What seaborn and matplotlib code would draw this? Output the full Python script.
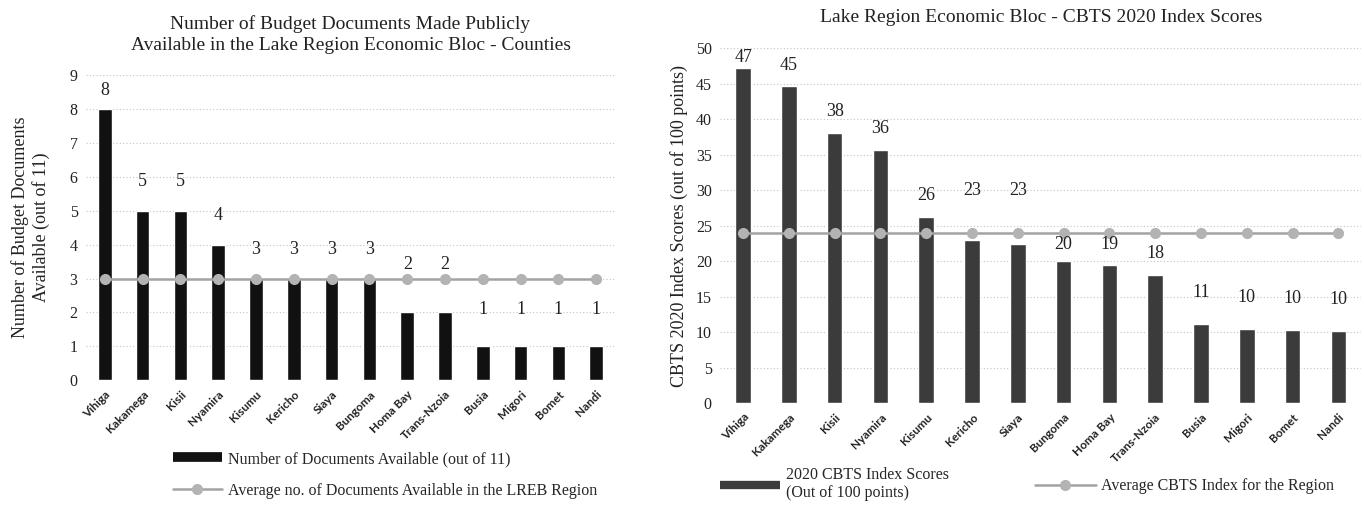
import matplotlib
matplotlib.use("Agg")
import matplotlib.pyplot as plt
import seaborn as sns
import numpy as np
from matplotlib.lines import Line2D

# --------------------------------------------------------
# Data
# --------------------------------------------------------

counties = ["Vihiga", "Kakamega", "Kisii", "Nyamira", "Kisumu", "Kericho", "Siaya",
            "Bungoma", "Homa Bay", "Trans-Nzoia", "Busia", "Migori", "Bomet", "Nandi"]

documents = [8, 5, 5, 4, 3, 3, 3, 3, 2, 2, 1, 1, 1, 1]
documents_avg = 3

cbts_scores = [47.2, 44.6, 38.1, 35.7, 26.2, 23.0, 22.4, 20.0, 19.4, 18.1, 11.1, 10.4, 10.3, 10.1]
cbts_labels = ["47", "45", "38", "36", "26", "23", "23", "20", "19", "18", "11", "10", "10", "10"]
cbts_avg = 24

# --------------------------------------------------------
# Global Visualization Settings
# --------------------------------------------------------

sns.set_theme(style="white")
plt.rcParams["font.family"] = ["Liberation Serif", "DejaVu Serif"]

SERIF = "Liberation Serif"
TICK_FONT = "Lato"
BAR_LEFT = "#111111"
BAR_RIGHT = "#3b3b3b"
LINE_COLOR = "#a3a3a3"
MARKER_COLOR = "#b3b3b3"
TEXT_COLOR = "#222222"

fig = plt.figure(figsize=(13.64, 5.07), dpi=100)

ax1 = fig.add_axes([0.063, 0.25, 0.388, 0.602])
ax2 = fig.add_axes([0.528, 0.205, 0.470, 0.700])


def style_axis(ax, ymax, step):
    ax.set_ylim(0, ymax)
    ax.set_yticks(np.arange(0, ymax + 0.1, step))
    ax.set_xlim(-0.5, len(counties) - 0.5)
    ax.yaxis.grid(True, linestyle=(0, (1, 2)), color="#c4c4c4", linewidth=0.8)
    ax.set_axisbelow(True)
    for s in ax.spines.values():
        s.set_visible(False)
    ax.tick_params(axis="both", length=0, pad=6)
    for t in ax.get_yticklabels():
        t.set_fontfamily(SERIF)
        t.set_fontsize(11.5)
        t.set_color(TEXT_COLOR)
    ax.set_xticks(range(len(counties)))
    ax.set_xticklabels(counties, rotation=45, ha="right", rotation_mode="anchor",
                       fontfamily=TICK_FONT, fontweight="bold", fontsize=8.5,
                       color=TEXT_COLOR)
    ax.set_xlabel("")


def line_handle():
    return Line2D([0], [0], color=LINE_COLOR, linewidth=1.8, marker="o", markersize=7,
                  markerfacecolor=MARKER_COLOR, markeredgecolor=MARKER_COLOR)


# --------------------------------------------------------
# Left chart
# --------------------------------------------------------

sns.barplot(x=counties, y=documents, color=BAR_LEFT, width=0.36,
            saturation=1, ax=ax1)
x = np.arange(len(counties))
ax1.plot(x, [documents_avg] * len(counties), color=LINE_COLOR, linewidth=1.8,
         marker="o", markersize=7, markerfacecolor=MARKER_COLOR,
         markeredgecolor=MARKER_COLOR, zorder=3)
style_axis(ax1, 9, 1)

for i, v in enumerate(documents):
    y = v + 0.85
    if v < documents_avg and v + 1.2 > documents_avg:
        y = documents_avg + 0.4
    if v <= 1:
        y = v + 1.1
    y = min(y, 8.55)
    ax1.text(i, y, str(v), ha="center", va="center", fontsize=13,
             fontfamily=SERIF, color=TEXT_COLOR)

ax1.set_title("Number of Budget Documents Made Publicly\nAvailable in the Lake Region Economic Bloc - Counties",
              fontsize=14, fontfamily=SERIF, color=TEXT_COLOR, pad=18, linespacing=1.3)
ax1.set_ylabel("Number of Budget Documents\nAvailable (out of 11)", fontsize=13,
               fontfamily=SERIF, color=TEXT_COLOR, labelpad=14, linespacing=1.25)

handles1 = [
    Line2D([0], [0], color=BAR_LEFT, linewidth=7, solid_capstyle="butt"),
    line_handle(),
]
fig.legend(handles1, ["Number of Documents Available (out of 11)",
                      "Average no. of Documents Available in the LREB Region"],
           loc="center left", bbox_to_anchor=(0.116, 0.063), frameon=False,
           handlelength=3.1, handletextpad=0.35, labelspacing=1.0,
           prop={"family": SERIF, "size": 11.5})

# --------------------------------------------------------
# Right chart
# --------------------------------------------------------

sns.barplot(x=counties, y=cbts_scores, color=BAR_RIGHT, width=0.34,
            saturation=1, ax=ax2)
ax2.plot(x, [cbts_avg] * len(counties), color=LINE_COLOR, linewidth=1.8,
         marker="o", markersize=7, markerfacecolor=MARKER_COLOR,
         markeredgecolor=MARKER_COLOR, zorder=3)
style_axis(ax2, 50, 5)

for i, (v, lab) in enumerate(zip(cbts_scores, cbts_labels)):
    y = v + 3.0
    if cbts_avg - 2.5 < v < cbts_avg:
        y = cbts_avg + 6.0
    elif v < cbts_avg:
        y = min(y, cbts_avg - 1.7)
    if v < 12:
        y = v + 4.5
    y = min(y, 48.7)
    ax2.text(i, y, lab, ha="center", va="center", fontsize=13,
             fontfamily=SERIF, color=TEXT_COLOR)

ax2.set_title("Lake Region Economic Bloc - CBTS 2020 Index Scores",
              fontsize=14, fontfamily=SERIF, color=TEXT_COLOR, pad=19)
ax2.set_ylabel("CBTS 2020 Index Scores (out of 100 points)", fontsize=13,
               fontfamily=SERIF, color=TEXT_COLOR, labelpad=6)

handles2 = [
    Line2D([0], [0], color=BAR_RIGHT, linewidth=6, solid_capstyle="butt"),
    line_handle(),
]
fig.legend(handles2, ["2020 CBTS Index Scores\n(Out of 100 points)",
                      "Average CBTS Index for the Region"],
           loc="center left", bbox_to_anchor=(0.517, 0.045), frameon=False, ncol=2,
           handlelength=3.8, handletextpad=0.35, columnspacing=5.4,
           prop={"family": SERIF, "size": 11.5})

plt.savefig("out.png", dpi=100)
plt.close()
